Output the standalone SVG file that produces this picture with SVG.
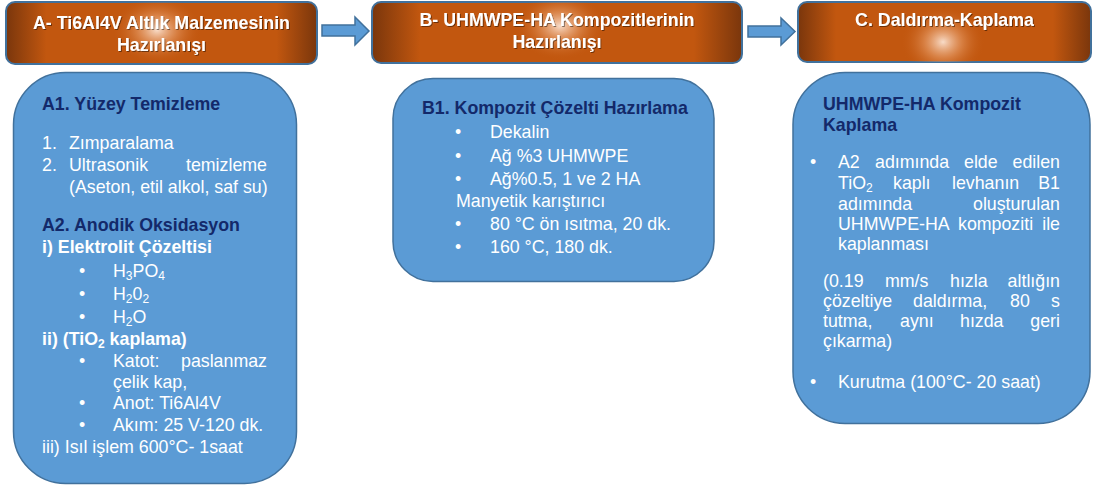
<svg xmlns="http://www.w3.org/2000/svg" width="1093" height="486" viewBox="0 0 1093 486">
<style>
text{font-family:"Liberation Sans",Arial,sans-serif;font-size:17.8px;}
.hdr{fill:url(#hgrad);stroke:#41719C;stroke-width:2;}
.hl{fill:url(#hl);}
.ht{fill:#fff;font-weight:bold;text-anchor:middle;filter:url(#ts);}
.box{fill:#5B9BD5;stroke:#41719C;stroke-width:1.5;}
.nav{fill:#13296A;font-weight:bold;}
.w{fill:#fff;}
.wb{fill:#fff;font-weight:bold;}
.e{text-anchor:end;}
.arr{fill:#5B9BD5;stroke:#41719C;stroke-width:1.5;}
</style>
<defs>
<linearGradient id="hgrad" x1="0" y1="0" x2="1" y2="0">
<stop offset="0" stop-color="#7A360C"/>
<stop offset="0.13" stop-color="#C2570F"/>
<stop offset="0.87" stop-color="#C2570F"/>
<stop offset="1" stop-color="#7A360C"/>
</linearGradient>
<radialGradient id="hl" cx="0.5" cy="0.5" r="0.5">
<stop offset="0" stop-color="#FBE3D2" stop-opacity="0.95"/>
<stop offset="0.45" stop-color="#E9A06C" stop-opacity="0.55"/>
<stop offset="1" stop-color="#C2570F" stop-opacity="0"/>
</radialGradient>
<clipPath id="cA"><rect x="6" y="2" width="311" height="62" rx="9"/></clipPath>
<clipPath id="cB"><rect x="372" y="2" width="370" height="61" rx="9"/></clipPath>
<clipPath id="cC"><rect x="798" y="2" width="293" height="60" rx="9"/></clipPath>
<filter id="ts" x="-10%" y="-30%" width="120%" height="160%">
<feDropShadow dx="1" dy="1" stdDeviation="0.6" flood-color="#000" flood-opacity="0.45"/>
</filter>
</defs>

<g id="headerA">
<rect class="hdr" x="6" y="2" width="311" height="62" rx="9"/>
<ellipse class="hl" cx="157" cy="30" rx="45" ry="34" clip-path="url(#cA)"/>
<text class="ht" x="161.5" y="29">A- Ti6Al4V Altlık Malzemesinin</text>
<text class="ht" x="161.5" y="51">Hazırlanışı</text>
</g>

<g id="headerB">
<rect class="hdr" x="372" y="2" width="370" height="61" rx="9"/>
<ellipse class="hl" cx="560" cy="26" rx="45" ry="34" clip-path="url(#cB)"/>
<text class="ht" x="557" y="26">B- UHMWPE-HA Kompozitlerinin</text>
<text class="ht" x="557" y="48">Hazırlanışı</text>
</g>

<g id="headerC">
<rect class="hdr" x="798" y="2" width="293" height="60" rx="9"/>
<ellipse class="hl" cx="943" cy="42" rx="42" ry="36" clip-path="url(#cC)"/>
<text class="ht" x="944.5" y="26">C. Daldırma-Kaplama</text>
</g>

<g id="connectors">
<polygon class="arr" points="322,25 355,25 355,17 369,31 355,45 355,36 322,36"/>
<polygon class="arr" points="748,26 781,26 781,18 795,31.5 781,45 781,37 748,37"/>
</g>

<g id="boxA">
<rect class="box" x="13.5" y="72.5" width="283" height="411" rx="52"/>
<text class="nav" x="42" y="110">A1. Yüzey Temizleme</text>
<text class="w" x="42" y="149">1.</text>
<text class="w" x="69" y="149">Zımparalama</text>
<text class="w" x="42" y="171">2.</text>
<text class="w" x="69" y="171">Ultrasonik</text>
<text class="w e" x="267" y="171">temizleme</text>
<text class="w" x="69" y="193">(Aseton, etil alkol, saf su)</text>
<text class="nav" x="42" y="231">A2. Anodik Oksidasyon</text>
<text class="wb" x="42" y="253">i) Elektrolit Çözeltisi</text>
<text class="w" x="79" y="277">•</text>
<text class="w" x="113" y="277">H<tspan font-size="12" dy="3">3</tspan><tspan dy="-3">PO</tspan><tspan font-size="12" dy="3">4</tspan></text>
<text class="w" x="79" y="300">•</text>
<text class="w" x="113" y="300">H<tspan font-size="12" dy="3">2</tspan><tspan dy="-3">0</tspan><tspan font-size="12" dy="3">2</tspan></text>
<text class="w" x="79" y="323">•</text>
<text class="w" x="113" y="323">H<tspan font-size="12" dy="3">2</tspan><tspan dy="-3">O</tspan></text>
<text class="wb" x="42" y="345">ii) (TiO<tspan font-size="12" dy="3">2</tspan><tspan dy="-3"> kaplama)</tspan></text>
<text class="w" x="79" y="367">•</text>
<text class="w" x="113" y="367">Katot:</text>
<text class="w e" x="267" y="367">paslanmaz</text>
<text class="w" x="113" y="388">çelik kap,</text>
<text class="w" x="79" y="409">•</text>
<text class="w" x="113" y="409">Anot: Ti6Al4V</text>
<text class="w" x="79" y="431">•</text>
<text class="w" x="113" y="431">Akım: 25 V-120 dk.</text>
<text class="w" x="42" y="453">iii) Isıl işlem 600°C- 1saat</text>
</g>

<g id="boxB">
<rect class="box" x="393" y="78.5" width="321" height="203" rx="40"/>
<text class="nav" x="422" y="114">B1. Kompozit Çözelti Hazırlama</text>
<text class="w" x="455" y="138">•</text>
<text class="w" x="490" y="138">Dekalin</text>
<text class="w" x="455" y="162">•</text>
<text class="w" x="490" y="162">Ağ %3 UHMWPE</text>
<text class="w" x="455" y="185">•</text>
<text class="w" x="490" y="185">Ağ%0.5, 1 ve 2 HA</text>
<text class="w" x="456" y="207">Manyetik karıştırıcı</text>
<text class="w" x="455" y="230">•</text>
<text class="w" x="490" y="230">80 °C ön ısıtma, 20 dk.</text>
<text class="w" x="455" y="253">•</text>
<text class="w" x="490" y="253">160 °C, 180 dk.</text>
</g>

<g id="boxC">
<rect class="box" x="793" y="72.5" width="297" height="351" rx="52"/>
<text class="nav" x="823" y="110">UHMWPE-HA Kompozit</text>
<text class="nav" x="823" y="131">Kaplama</text>
<text class="w" x="810" y="168">•</text>
<text class="w" x="838" y="168">A2</text>
<text class="w" x="875" y="168">adımında</text>
<text class="w" x="964" y="168">elde</text>
<text class="w e" x="1060" y="168">edilen</text>
<text class="w" x="838" y="189">TiO<tspan font-size="12" dy="3">2</tspan></text>
<text class="w" x="893" y="189">kaplı</text>
<text class="w" x="952" y="189">levhanın</text>
<text class="w e" x="1060" y="189">B1</text>
<text class="w" x="838" y="210">adımında</text>
<text class="w e" x="1060" y="210">oluşturulan</text>
<text class="w" x="838" y="230">UHMWPE-HA</text>
<text class="w" x="958" y="230">kompoziti</text>
<text class="w e" x="1060" y="230">ile</text>
<text class="w" x="838" y="250">kaplanması</text>
<text class="w" x="823" y="287">(0.19</text>
<text class="w" x="885" y="287">mm/s</text>
<text class="w" x="950" y="287">hızla</text>
<text class="w e" x="1060" y="287">altlığın</text>
<text class="w" x="823" y="307">çözeltiye</text>
<text class="w" x="913" y="307">daldırma,</text>
<text class="w" x="1010" y="307">80</text>
<text class="w e" x="1060" y="307">s</text>
<text class="w" x="823" y="327">tutma,</text>
<text class="w" x="900" y="327">aynı</text>
<text class="w" x="960" y="327">hızda</text>
<text class="w e" x="1060" y="327">geri</text>
<text class="w" x="823" y="347">çıkarma)</text>
<text class="w" x="810" y="388">•</text>
<text class="w" x="838" y="388">Kurutma (100°C- 20 saat)</text>
</g>
</svg>
